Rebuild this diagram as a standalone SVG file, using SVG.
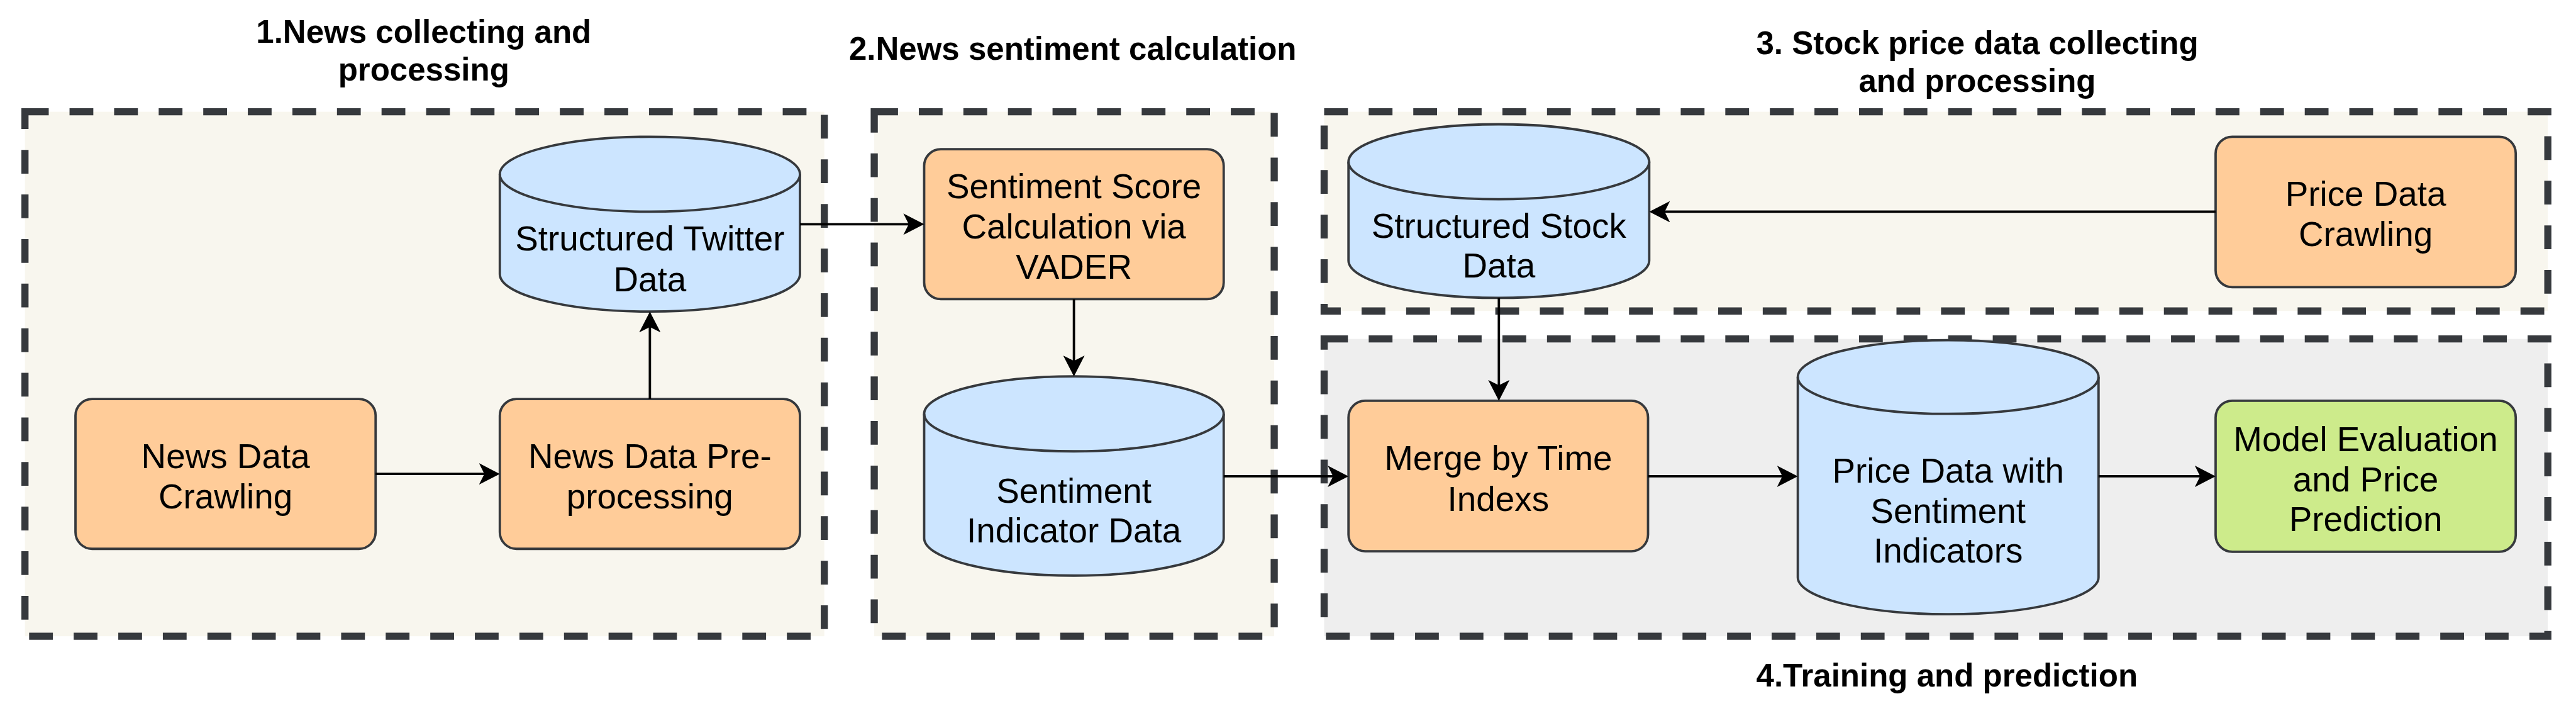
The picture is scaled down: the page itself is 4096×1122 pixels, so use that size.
<svg xmlns="http://www.w3.org/2000/svg" width="4096" height="1122" viewBox="0 0 4096 1122">
<defs>
<marker id="arr" viewBox="0 0 36 36" refX="25" refY="18" markerWidth="36" markerHeight="36" markerUnits="userSpaceOnUse" orient="auto">
<path d="M0,0 L35,18 L0,36 L9,18 Z" fill="#000"/>
</marker>
</defs>
<style>
.grp{stroke:#36393d;stroke-width:12;stroke-dasharray:40 35}
.gl{fill:#f8f6ee}
.gd{fill:#eeeeee}
.box{stroke:#36393d;stroke-width:4}
.proc{fill:#ffcc99}
.eval{fill:#cdeb8b}
.db{fill:#cce5ff;stroke:#36393d;stroke-width:4}
.arc{fill:none;stroke:#36393d;stroke-width:4}
.t{font-family:"Liberation Sans",Arial,sans-serif;font-size:58px;text-anchor:middle;fill:#000}
.h{font-family:"Liberation Sans",Arial,sans-serif;font-size:54px;font-weight:bold;text-anchor:middle;fill:#000}
.edge{fill:none;stroke:#000;stroke-width:4;marker-end:url(#arr)}
</style>
<rect width="4096" height="1122" fill="#ffffff"/>
<g transform="scale(0.945)">
<g id="group1">
<rect class="grp gl" x="42" y="188" width="1345" height="882"/>
<text class="h" x="713" y="72">1.News collecting and</text>
<text class="h" x="713" y="135">processing</text>
</g>
<g id="group2">
<rect class="grp gl" x="1471" y="188" width="673" height="882"/>
<text class="h" x="1805" y="101">2.News sentiment calculation</text>
</g>
<g id="group3">
<rect class="grp gl" x="2228" y="188" width="2059" height="335"/>
<text class="h" x="3327" y="91">3. Stock price data collecting</text>
<text class="h" x="3327" y="154">and processing</text>
</g>
<g id="group4">
<rect class="grp gd" x="2228" y="570" width="2059" height="500"/>
<text class="h" x="3276" y="1154">4.Training and prediction</text>
</g>

<g id="news-crawling">
<rect class="box proc" x="127" y="671" width="505" height="252" rx="28"/>
<text class="t" x="379.5" y="787">News Data</text>
<text class="t" x="379.5" y="855">Crawling</text>
</g>
<g id="news-preprocessing">
<rect class="box proc" x="841" y="671" width="505" height="252" rx="28"/>
<text class="t" x="1093.5" y="787">News Data Pre-</text>
<text class="t" x="1093.5" y="855">processing</text>
</g>
<g id="twitter-data">
<path class="db" d="M841,293 A252.5,63 0 0 1 1346,293 L1346,461 A252.5,63 0 0 1 841,461 Z"/>
<path class="arc" d="M841,293 A252.5,63 0 0 0 1346,293"/>
<text class="t" x="1093.5" y="421">Structured Twitter</text>
<text class="t" x="1093.5" y="490">Data</text>
</g>
<g id="sentiment-score">
<rect class="box proc" x="1555" y="251" width="504" height="252" rx="28"/>
<text class="t" x="1807" y="333">Sentiment Score</text>
<text class="t" x="1807" y="401">Calculation via</text>
<text class="t" x="1807" y="469">VADER</text>
</g>
<g id="sentiment-indicator">
<path class="db" d="M1555,696 A252,63 0 0 1 2059,696 L2059,905 A252,63 0 0 1 1555,905 Z"/>
<path class="arc" d="M1555,696 A252,63 0 0 0 2059,696"/>
<text class="t" x="1807" y="845">Sentiment</text>
<text class="t" x="1807" y="912">Indicator Data</text>
</g>
<g id="stock-data">
<path class="db" d="M2269,272 A253,63 0 0 1 2775,272 L2775,438 A253,63 0 0 1 2269,438 Z"/>
<path class="arc" d="M2269,272 A253,63 0 0 0 2775,272"/>
<text class="t" x="2522" y="400">Structured Stock</text>
<text class="t" x="2522" y="467">Data</text>
</g>
<g id="price-crawling">
<rect class="box proc" x="3728" y="230" width="505" height="253" rx="28"/>
<text class="t" x="3980.5" y="346">Price Data</text>
<text class="t" x="3980.5" y="414">Crawling</text>
</g>
<g id="merge">
<rect class="box proc" x="2269" y="674" width="504" height="253" rx="28"/>
<text class="t" x="2521" y="790">Merge by Time</text>
<text class="t" x="2521" y="859">Indexs</text>
</g>
<g id="price-sentiment">
<path class="db" d="M3025,634 A253,62 0 0 1 3531,634 L3531,971 A253,62 0 0 1 3025,971 Z"/>
<path class="arc" d="M3025,634 A253,62 0 0 0 3531,634"/>
<text class="t" x="3278" y="812">Price Data with</text>
<text class="t" x="3278" y="879">Sentiment</text>
<text class="t" x="3278" y="946">Indicators</text>
</g>
<g id="model-eval">
<rect class="box eval" x="3728" y="674" width="505" height="254" rx="28"/>
<text class="t" x="3980.5" y="759">Model Evaluation</text>
<text class="t" x="3980.5" y="826">and Price</text>
<text class="t" x="3980.5" y="893">Prediction</text>
</g>

<g id="connectors">
<path class="edge" d="M632,797 L831,797"/>
<path class="edge" d="M1093.5,671 L1093.5,534"/>
<path class="edge" d="M1346,377 L1545,377"/>
<path class="edge" d="M1807,503 L1807,623"/>
<path class="edge" d="M2059,801 L2259,801"/>
<path class="edge" d="M3728,356 L2785,356"/>
<path class="edge" d="M2522,501 L2522,664"/>
<path class="edge" d="M2773,801 L3015,801"/>
<path class="edge" d="M3531,801 L3718,801"/>
</g>
</g>
</svg>
